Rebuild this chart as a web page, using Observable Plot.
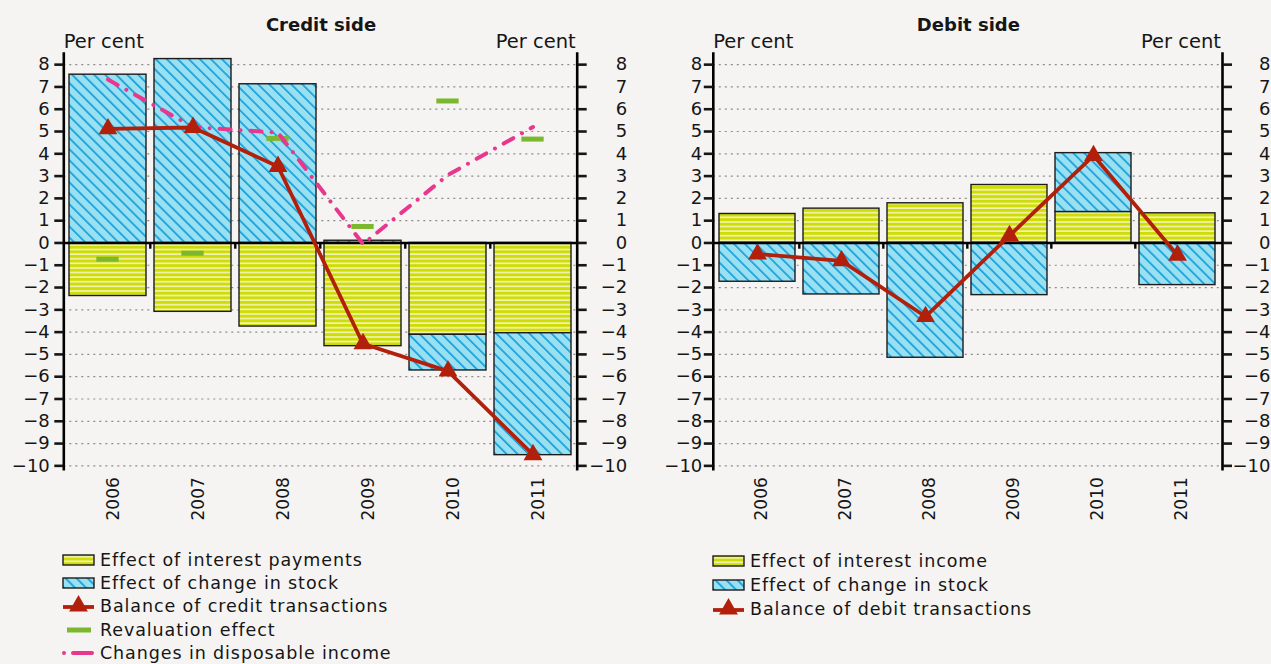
<!DOCTYPE html>
<html>
<head>
<meta charset="utf-8">
<script src="https://cdn.jsdelivr.net/npm/d3@7"></script>
<script src="https://cdn.jsdelivr.net/npm/@observablehq/plot@0.6"></script>
<style>
  html, body { margin: 0; padding: 0; }
  body { background: #f5f4f2; font-family: "DejaVu Sans", sans-serif; color: #161616;
         width: 1271px; height: 664px; overflow: hidden; position: relative; }
  .panel { position: absolute; top: 0; width: 635px; height: 664px; }
  .title { position: absolute; top: 14.5px; font-weight: bold; font-size: 18px; line-height: 20px;
           transform: translateX(-50%); white-space: nowrap; }
  .unit { position: absolute; top: 32px; font-size: 19.5px; line-height: 20px; white-space: nowrap; }
  .chart { position: absolute; top: 48px; left: 0; }
  .legend { position: absolute; font-size: 17.5px; letter-spacing: 0.9px; }
  .legend .row { display: flex; align-items: center; white-space: nowrap; }
  .legend svg { margin-right: 5px; flex: none; }
</style>
</head>
<body>
<svg width="0" height="0" style="position:absolute">
  <defs>
    <pattern id="patY" patternUnits="userSpaceOnUse" width="8" height="4.6">
      <rect width="8" height="4.6" fill="#d0dc06"/>
      <rect y="2.9" width="8" height="1.7" fill="#eff3b2"/>
    </pattern>
    <pattern id="patB" patternUnits="userSpaceOnUse" width="7.8" height="7.8" patternTransform="rotate(-45)">
      <rect width="7.8" height="7.8" fill="#9ae0f3"/>
      <rect x="0" width="1.7" height="7.8" fill="#149fd8"/>
    </pattern>
  </defs>
</svg>

<div class="panel" id="left"></div>
<div class="panel" id="right" style="left:636px"></div>

<script>
// ---------------- data ----------------
const years = ["2006", "2007", "2008", "2009", "2010", "2011"];
const yTicks = [-10, -9, -8, -7, -6, -5, -4, -3, -2, -1, 0, 1, 2, 3, 4, 5, 6, 7, 8];

// Credit side
const creditInterest = [-2.38, -3.09, -3.75, -4.63, -4.12, -4.05];
const creditStock = [7.55, 8.25, 7.12, 0.1, -1.6, -5.47];
const creditBalance = [5.12, 5.18, 3.43, -4.52, -5.75, -9.5];
const revaluationEffect = [-0.73, -0.46, 4.69, 0.74, 6.37, 4.66];
const disposableIncome = [7.33, 5.2, 4.95, -0.05, 3.05, 5.2];

// Debit side
const debitInterest = [1.3, 1.54, 1.78, 2.6, 1.39, 1.33];
const debitStock = [-1.74, -2.31, -5.15, -2.34, 2.64, -1.89];
const debitBalance = [-0.5, -0.8, -3.3, 0.33, 3.92, -0.55];

// Labels
const creditTitle = "Credit side";
const debitTitle = "Debit side";
const unitLabel = "Per cent";
const creditLegend = ["Effect of interest payments", "Effect of change in stock",
  "Balance of credit transactions", "Revaluation effect", "Changes in disposable income"];
const debitLegend = ["Effect of interest income", "Effect of change in stock",
  "Balance of debit transactions"];

// ---------------- styles ----------------
const RED = "#b2200c", GREEN = "#7cb82e", PINK = "#e8378d";
const FILL_INTEREST = "url(#patY)", FILL_STOCK = "url(#patB)";

function stackRows(interest, stock) {
  return years.flatMap((year, i) => [
    {year, value: interest[i], fill: FILL_INTEREST},
    {year, value: stock[i], fill: FILL_STOCK}
  ]);
}
function series(values) { return years.map((year, i) => ({year, v: values[i]})); }

function drawPanel(o) {
  const plotW = o.width - o.mLeft - o.mRight;
  const step = plotW / (years.length - o.pi + 2 * o.po);
  const bw = step * (1 - o.pi);
  const extras = [];
  if (o.reval) {
    extras.push(Plot.tickY(series(o.reval), {x: "year", y: "v", stroke: GREEN, strokeWidth: 5,
      insetLeft: (bw - 23) / 2, insetRight: (bw - 23) / 2}));
  }
  if (o.income) {
    extras.push(Plot.line(series(o.income), {x: "year", y: "v", stroke: PINK, strokeWidth: 4,
      strokeDasharray: "11,10,0.01,10", strokeLinecap: "round"}));
  }
  return Plot.plot({
    width: o.width, height: 480,
    marginLeft: o.mLeft, marginRight: o.mRight, marginTop: 5, marginBottom: 59.3,
    style: {background: "transparent", fontFamily: "DejaVu Sans, sans-serif", color: "#161616", overflow: "visible"},
    x: {type: "band", domain: years, paddingInner: o.pi, paddingOuter: o.po, label: null},
    y: {domain: [-10.15, 8.5], label: null},
    color: {type: "identity"},
    marks: [
      Plot.gridY(yTicks, {stroke: "#8c8c8c", strokeOpacity: 1, strokeWidth: 1.2, strokeDasharray: "2,4"}),
      Plot.barY(o.rows, Plot.stackY({x: "year", y: "value", fill: "fill", stroke: "#1c1c1c", strokeWidth: 1.4})),
      Plot.ruleY([0], {stroke: "#000", strokeWidth: 2.6}),
      Plot.ruleX(years.slice(1), {x: d => d, y1: 0, y2: -0.28, dx: -step / 2, stroke: "#000", strokeWidth: 2.4}),
      ...extras,
      Plot.line(series(o.balance), {x: "year", y: "v", stroke: RED, strokeWidth: 3.8}),
      Plot.dot(series(o.balance), {x: "year", y: "v", symbol: "triangle", r: 7, fill: RED, stroke: "none"}),
      Plot.frame({anchor: "left", stroke: "#000", strokeWidth: 2.6}),
      Plot.frame({anchor: "right", stroke: "#000", strokeWidth: 2.6}),
      Plot.axisY(yTicks, {anchor: "left", tickSize: 9, tickPadding: o.lpad, strokeWidth: 2.6, fontSize: 18, label: null}),
      Plot.axisY(yTicks, {anchor: "right", tickSize: 9, tickPadding: o.rpad, textAnchor: "end", strokeWidth: 2.6, fontSize: 18, label: null}),
      Plot.axisX({tickRotate: -90, tickSize: 0, tickPadding: 8, fontSize: 17, dx: o.xdx, label: null})
    ]
  });
}

function header(el, title, o) {
  const plotL = o.mLeft, plotR = o.width - o.mRight;
  const t = document.createElement("div");
  t.className = "title"; t.textContent = title;
  t.style.left = ((plotL + plotR) / 2 + 1) + "px";
  el.appendChild(t);
  const u1 = document.createElement("div");
  u1.className = "unit"; u1.textContent = unitLabel; u1.style.left = (plotL + 0.5) + "px";
  el.appendChild(u1);
  const u2 = document.createElement("div");
  u2.className = "unit"; u2.textContent = unitLabel; u2.style.right = (o.width - plotR + 1) + "px";
  el.appendChild(u2);
}

function swatch(kind) {
  const w = 33, h = 14;
  let inner = "";
  if (kind === "interest") inner = `<rect x="1" y="2" width="31" height="10" fill="${FILL_INTEREST}" stroke="#1c1c1c" stroke-width="1.4"/>`;
  if (kind === "stock") inner = `<rect x="1" y="2" width="31" height="10" fill="${FILL_STOCK}" stroke="#1c1c1c" stroke-width="1.4"/>`;
  if (kind === "balance") inner = `<line x1="1" x2="32" y1="8" y2="8" stroke="${RED}" stroke-width="3.8"/>` +
      `<path d="${d3.symbol(d3.symbolTriangle, Math.PI * 7 * 7)()}" transform="translate(16.5,7)" fill="${RED}"/>`;
  if (kind === "reval") inner = `<line x1="5" x2="29" y1="7" y2="7" stroke="${GREEN}" stroke-width="5"/>`;
  if (kind === "income") inner = `<line x1="2" x2="2.01" y1="7" y2="7" stroke="${PINK}" stroke-width="4" stroke-linecap="round"/>` +
      `<line x1="11" x2="30" y1="7" y2="7" stroke="${PINK}" stroke-width="4" stroke-linecap="round"/>`;
  return `<svg width="${w}" height="${h}" style="overflow:visible">${inner}</svg>`;
}

function legend(el, labels, kinds, left, top, rowH) {
  const box = document.createElement("div");
  box.className = "legend";
  box.style.left = left + "px"; box.style.top = top + "px";
  labels.forEach((lab, i) => {
    const r = document.createElement("div");
    r.className = "row"; r.style.height = rowH + "px";
    r.innerHTML = swatch(kinds[i]) + `<span>${lab}</span>`;
    box.appendChild(r);
  });
  el.appendChild(box);
}

// ---------------- build ----------------
const leftOpts = {width: 635, mLeft: 63.3, mRight: 58.3, pi: 0.091, po: 0.05, lpad: 5, rpad: 41, xdx: 6,
  rows: stackRows(creditInterest, creditStock), balance: creditBalance,
  reval: revaluationEffect, income: disposableIncome};
const rightOpts = {width: 635, mLeft: 76.8, mRight: 49, pi: 0.094, po: 0.065, lpad: 2, rpad: 39, xdx: 4,
  rows: stackRows(debitInterest, debitStock), balance: debitBalance};

const leftEl = document.getElementById("left");
const rightEl = document.getElementById("right");
header(leftEl, creditTitle, leftOpts);
header(rightEl, debitTitle, rightOpts);

const c1 = drawPanel(leftOpts); c1.classList.add("chart"); leftEl.appendChild(c1);
const c2 = drawPanel(rightOpts); c2.classList.add("chart"); rightEl.appendChild(c2);

legend(leftEl, creditLegend, ["interest", "stock", "balance", "reval", "income"], 62, 548, 23.3);
legend(rightEl, debitLegend, ["interest", "stock", "balance"], 712 - 636, 549, 24);
</script>
</body>
</html>
